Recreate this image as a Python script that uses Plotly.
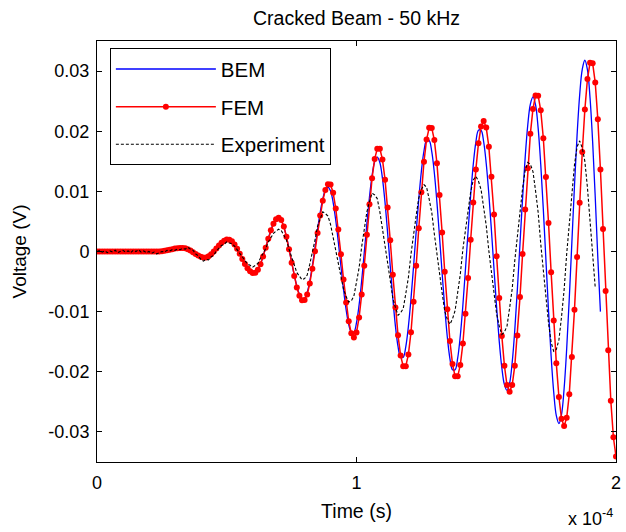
import numpy as np
import plotly.graph_objects as go

# Time step of the sampled signals (s)
dt = 1e-6

# FEM signal (V), sampled every 1 microsecond from 0 to 200 us
fem_v = [
    0, 0, 0, 0, 0, 0, 0, 0, 0, 0,
    0, 0, 0, 0, 0, 0, 0, 0, 0, 0,
    0, 0, 0, 0, 0.00002, 0.00006, 0.00012, 0.00021, 0.00030, 0.00039,
    0.00048, 0.00054, 0.00059, 0.00060, 0.00055, 0.00039, 0.00016, -0.00013, -0.00042, -0.00068,
    -0.00088, -0.00099, -0.00098, -0.00080, -0.00046, -0.00001, 0.00050, 0.00101, 0.00146, 0.00180,
    0.00198, 0.00197, 0.00169, 0.00118, 0.00047, -0.00036, -0.00124, -0.00207, -0.00278, -0.00329,
    -0.00357, -0.00354, -0.00305, -0.00211, -0.00085, 0.00062, 0.00213, 0.00352, 0.00463, 0.00535,
    0.00560, 0.00523, 0.00414, 0.00247, 0.00039, -0.00187, -0.00407, -0.00597, -0.00737, -0.00810,
    -0.00808, -0.00714, -0.00534, -0.00288, 0.00003, 0.00307, 0.00598, 0.00844, 0.01024, 0.01118,
    0.01112, 0.00976, 0.00717, 0.00365, -0.00045, -0.00464, -0.00850, -0.01160, -0.01361, -0.01430,
    -0.01345, -0.01097, -0.00714, -0.00237, 0.00280, 0.00785, 0.01220, 0.01540, 0.01708, 0.01708,
    0.01531, 0.01194, 0.00731, 0.00185, -0.00385, -0.00931, -0.01394, -0.01731, -0.01908, -0.01906,
    -0.01711, -0.01343, -0.00835, -0.00238, 0.00388, 0.00985, 0.01493, 0.01861, 0.02056, 0.02055,
    0.01852, 0.01468, 0.00939, 0.00316, -0.00336, -0.00959, -0.01488, -0.01872, -0.02075, -0.02076,
    -0.01889, -0.01530, -0.01033, -0.00441, 0.00195, 0.00814, 0.01365, 0.01799, 0.02080, 0.02170,
    0.02060, 0.01740, 0.01243, 0.00615, -0.00080, -0.00775, -0.01403, -0.01900, -0.02220, -0.02330,
    -0.02221, -0.01899, -0.01397, -0.00758, -0.00041, 0.00697, 0.01383, 0.01959, 0.02370, 0.02593,
    0.02590, 0.02347, 0.01883, 0.01240, 0.00475, -0.00347, -0.01147, -0.01860, -0.02420, -0.02779,
    -0.02900, -0.02766, -0.02372, -0.01756, -0.00970, -0.00093, 0.00812, 0.01653, 0.02360, 0.02869,
    0.03137, 0.03130, 0.02809, 0.02200, 0.01363, 0.00376, -0.00656, -0.01643, -0.02480, -0.03089,
    -0.03410,
]

# BEM signal (V), 0 to 194 us
bem_v = [
    0, 0, 0, 0, 0, 0, 0, 0, 0, 0,
    0, 0, 0, 0, 0, 0, 0, 0, 0, 0,
    0, 0, 0, 0, 0.00002, 0.00006, 0.00012, 0.00021, 0.00030, 0.00039,
    0.00048, 0.00054, 0.00059, 0.00060, 0.00055, 0.00039, 0.00016, -0.00013, -0.00042, -0.00068,
    -0.00088, -0.00099, -0.00098, -0.00080, -0.00046, -0.00001, 0.00050, 0.00101, 0.00146, 0.00180,
    0.00198, 0.00197, 0.00169, 0.00118, 0.00047, -0.00036, -0.00124, -0.00207, -0.00278, -0.00329,
    -0.00357, -0.00354, -0.00305, -0.00211, -0.00085, 0.00062, 0.00213, 0.00352, 0.00463, 0.00530,
    0.00550, 0.00514, 0.00409, 0.00246, 0.00044, -0.00175, -0.00389, -0.00574, -0.00710, -0.00781,
    -0.00777, -0.00678, -0.00490, -0.00234, 0.00064, 0.00368, 0.00649, 0.00874, 0.01020, 0.01070,
    0.01004, 0.00814, 0.00520, 0.00153, -0.00245, -0.00633, -0.00968, -0.01214, -0.01340, -0.01340,
    -0.01184, -0.00887, -0.00484, -0.00015, 0.00464, 0.00906, 0.01261, 0.01491, 0.01570, 0.01480,
    0.01217, 0.00811, 0.00305, -0.00242, -0.00778, -0.01240, -0.01579, -0.01760, -0.01758, -0.01581,
    -0.01245, -0.00784, -0.00240, 0.00330, 0.00874, 0.01335, 0.01671, 0.01848, 0.01847, 0.01660,
    0.01305, 0.00816, 0.00241, -0.00361, -0.00936, -0.01425, -0.01780, -0.01967, -0.01966, -0.01770,
    -0.01400, -0.00890, -0.00289, 0.00339, 0.00940, 0.01450, 0.01820, 0.02016, 0.02016, 0.01825,
    0.01459, 0.00953, 0.00350, -0.00298, -0.00929, -0.01490, -0.01932, -0.02214, -0.02310, -0.02190,
    -0.01844, -0.01305, -0.00624, 0.00130, 0.00884, 0.01565, 0.02104, 0.02450, 0.02570, 0.02437,
    0.02051, 0.01451, 0.00694, -0.00145, -0.00984, -0.01741, -0.02340, -0.02730, -0.02860, -0.02712,
    -0.02283, -0.01616, -0.00773, 0.00160, 0.01093, 0.01936, 0.02603, 0.03030, 0.03180, 0.03020,
    0.02552, 0.01825, 0.00907, -0.00110, -0.01000,
]

# Experimental signal (V), 0 to 192 us
exp_v = [
    0.0000, 0.0002, -0.0001, 0.0001, -0.0002, 0.0001, -0.0001, 0.0002, -0.0002, 0.0000,
    0.0002, -0.0001, 0.0001, -0.0002, 0.0002, 0.0000, 0.0003, -0.0001, 0.0001, -0.0002,
    0.0000, -0.0003, -0.0001, -0.0004, -0.0002, 0.0000, -0.0001, 0.0002, 0.0001, 0.0003,
    0.0002, 0.0004, 0.0003, 0.0005, 0.0004, 0.0007, 0.0004, 0.0002, -0.0004, -0.0007,
    -0.0013, -0.0016, -0.0013, -0.0014, -0.0009, -0.0006, 0.0001, 0.0005, 0.0010, 0.0012,
    0.0016, 0.0014, 0.0013, 0.0009, 0.0003, -0.0003, -0.0011, -0.0016, -0.0021, -0.0023,
    -0.0026, -0.0023, -0.0020, -0.0011, -0.0004, 0.0005, 0.0016, 0.0023, 0.0030, 0.0034,
    0.0037, 0.0035, 0.0027, 0.0019, 0.0004, -0.0009, -0.0021, -0.0035, -0.0041, -0.0047,
    -0.0045, -0.0039, -0.0021, -0.0003, 0.0019, 0.0042, 0.0055, 0.0066, 0.0063, 0.0059,
    0.0045, 0.0022, 0.0004, -0.0018, -0.0041, -0.0063, -0.0075, -0.0084, -0.0082, -0.0074,
    -0.0051, -0.0027, 0.0008, 0.0035, 0.0066, 0.0083, 0.0097, 0.0094, 0.0088, 0.0066,
    0.0040, 0.0013, -0.0019, -0.0048, -0.0078, -0.0093, -0.0106, -0.0102, -0.0095, -0.0070,
    -0.0043, -0.0004, 0.0031, 0.0060, 0.0089, 0.0103, 0.0111, 0.0107, 0.0087, 0.0065,
    0.0029, -0.0006, -0.0036, -0.0069, -0.0099, -0.0113, -0.0121, -0.0112, -0.0098, -0.0068,
    -0.0038, 0.0004, 0.0037, 0.0075, 0.0099, 0.0119, 0.0125, 0.0117, 0.0103, 0.0073,
    0.0043, 0.0001, -0.0034, -0.0071, -0.0104, -0.0124, -0.0138, -0.0134, -0.0124, -0.0094,
    -0.0062, -0.0015, 0.0026, 0.0072, 0.0105, 0.0135, 0.0148, 0.0145, 0.0133, 0.0101,
    0.0065, 0.0013, -0.0031, -0.0083, -0.0119, -0.0151, -0.0166, -0.0163, -0.0147, -0.0109,
    -0.0064, -0.0004, 0.0049, 0.0106, 0.0144, 0.0174, 0.0184, 0.0172, 0.0150, 0.0106,
    0.0055, -0.0002, -0.0060,
]

x_ticks = [0, 1e-4, 2e-4]
x_tick_labels = ["0", "1", "2"]
y_ticks = [-0.03, -0.02, -0.01, 0, 0.01, 0.02, 0.03]
y_tick_labels = ["-0.03", "-0.02", "-0.01", "0", "0.01", "0.02", "0.03"]

fem_t = np.arange(len(fem_v)) * dt
bem_t = np.arange(len(bem_v)) * dt
exp_t = np.arange(len(exp_v)) * dt

FONT = "Liberation Sans, Arial, sans-serif"

fig = go.Figure()
fig.add_trace(go.Scatter(x=bem_t, y=bem_v, mode="lines", name="BEM",
                         line=dict(color="#0000ff", width=1.3, shape="spline"),
                         legendgroup="a"))
fig.add_trace(go.Scatter(x=fem_t, y=fem_v, mode="lines+markers", name="FEM",
                         line=dict(color="#ff0000", width=1.5),
                         marker=dict(size=6, color="#ff0000"),
                         legendgroup="b"))
fig.add_trace(go.Scatter(x=exp_t, y=exp_v, mode="lines", name="Experiment",
                         line=dict(color="black", width=1.1, dash="3px,2px"),
                         legendgroup="c"))

fig.update_layout(
    width=626, height=532,
    margin=dict(l=97, r=5, t=41, b=70),
    paper_bgcolor="white", plot_bgcolor="white",
    font=dict(family=FONT, size=18, color="black"),
    title=dict(text="Cracked Beam - 50 kHz", x=0.5, xref="paper", xanchor="center",
               y=1 - 18 / 532, yref="container", yanchor="middle",
               font=dict(size=19.5)),
    showlegend=True,
    legend=dict(x=0.0248, y=0.983, xanchor="left", yanchor="top",
                bgcolor="white", bordercolor="black", borderwidth=1,
                font=dict(size=20.5), tracegroupgap=8, itemwidth=100),
    xaxis=dict(range=[0, 2e-4], tickvals=x_ticks, ticktext=x_tick_labels,
               showline=True, linecolor="black", linewidth=1, mirror="ticks",
               ticks="inside", ticklen=5, tickcolor="black",
               showgrid=False, zeroline=False, ticklabelstandoff=4,
               ticklabeloverflow="allow",
               title=dict(text="Time (s)", standoff=12, font=dict(size=19.5))),
    yaxis=dict(range=[-0.035, 0.035], tickvals=y_ticks, ticktext=y_tick_labels,
               showline=True, linecolor="black", linewidth=1, mirror="ticks",
               ticks="inside", ticklen=5, tickcolor="black",
               showgrid=False, zeroline=False, ticklabelstandoff=3,
               title=dict(text="Voltage (V)", standoff=16, font=dict(size=19))),
)

fig.add_annotation(text="x 10<sup>-4</sup>", xref="paper", yref="paper",
                   x=0.997, y=-(530 - 462) / 421, xanchor="right", yanchor="bottom",
                   showarrow=False, font=dict(size=18), borderpad=0)

fig.write_html("out.html")
